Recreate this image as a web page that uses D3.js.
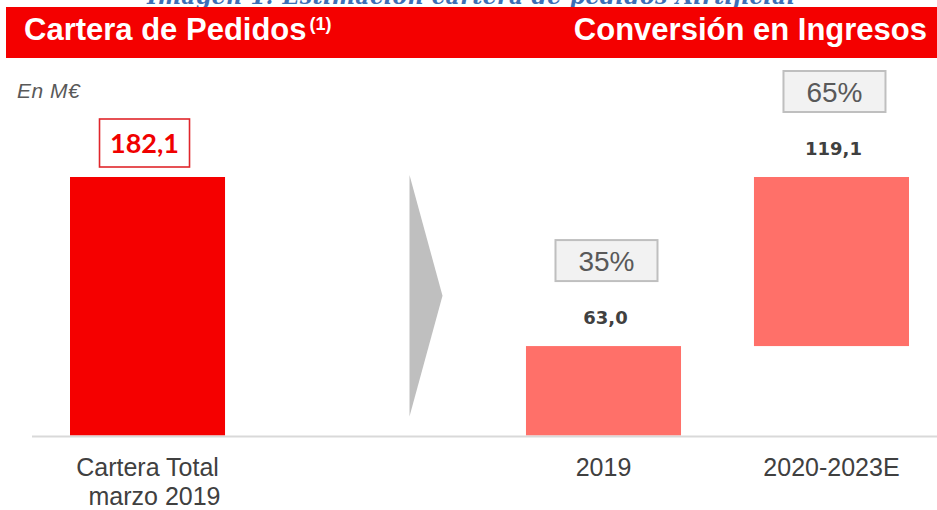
<!DOCTYPE html>
<html>
<head>
<meta charset="utf-8">
<script src="https://cdn.jsdelivr.net/npm/d3@7"></script>
<style>
  body { margin: 0; background: #fff; }
  svg { display: block; font-family: 'Liberation Sans', Arial, sans-serif; }
</style>
</head>
<body>
<div id="chart"></div>
<script>
// Chart data
const categories = ['Cartera Total', 'arrow', '2019', '2020-2023E'];
const barNames = ['Cartera Total', '2019', '2020-2023E'];
const barLines = [['Cartera Total', 'marzo 2019'], ['2019'], ['2020-2023E']];
const barValues = [182.1, 63.0, 119.1];
const valueLabels = ['182,1', '63,0', '119,1'];
const shareLabels = [null, '35%', '65%'];

const caption = 'Imagen 1: Estimación cartera de pedidos Airtificial';
const leftTitle = 'Cartera de Pedidos';
const rightTitle = 'Conversión en Ingresos';
const unitLabel = 'En M€';

const totalColor = '#f50000';
const partColor = '#ff7069';

function createChart() {
    let width = 937, height = 510;

    let svg = d3.select('#chart')
        .append('svg')
            .attr('width', width)
            .attr('height', height);

    // Scales
    let scX = d3.scaleBand()
        .domain(categories)
        .range([70, 909])
        .paddingInner(0.32)
        .paddingOuter(0);
    let scY = d3.scaleLinear()
        .domain([0, barValues[0]])
        .range([435.5, 177]);

    // Waterfall: first bar is the total, others stack from zero
    let bars = [];
    let running = 0;
    barNames.forEach((name, i) => {
        if (i === 0) {
            bars.push({name, y0: 0, y1: barValues[i], total: true, i});
        } else {
            bars.push({name, y0: running, y1: running + barValues[i], total: false, i});
            running += barValues[i];
        }
    });

    // Caption cut off at the top (as in the source picture)
    svg.append('text')
        .attr('x', 147)
        .attr('y', 4)
        .attr('textLength', 648)
        .attr('style', "font-family: 'DejaVu Serif', serif; font-style: italic; font-weight: bold; font-size: 22px; fill: #3d6fb6;")
        .text(caption);

    // Red header band
    svg.append('rect')
        .attr('x', 6)
        .attr('y', 7)
        .attr('width', width - 6)
        .attr('height', 51)
        .attr('fill', '#f40000');

    let lt = svg.append('text')
        .attr('x', 24)
        .attr('y', 40)
        .attr('fill', '#fff')
        .attr('font-weight', 'bold')
        .attr('font-size', '31px')
        .text(leftTitle);
    lt.append('tspan')
        .attr('dy', -10)
        .attr('dx', 3)
        .attr('font-size', '18px')
        .text('(1)');

    svg.append('text')
        .attr('x', 927)
        .attr('y', 40)
        .attr('text-anchor', 'end')
        .attr('fill', '#fff')
        .attr('font-weight', 'bold')
        .attr('font-size', '31px')
        .text(rightTitle);

    // Units
    svg.append('text')
        .attr('x', 17)
        .attr('y', 98)
        .attr('fill', '#595959')
        .attr('font-style', 'italic')
        .attr('font-size', '21px')
        .attr('letter-spacing', '0.5px')
        .text(unitLabel);

    // Grey chevron between the total and the conversion bars
    let ax = scX('arrow') + scX.bandwidth() / 2 + 34;
    let arrowTop = scY(barValues[0]) - 2;
    let arrowBot = scY(0) - 19;
    svg.append('path')
        .attr('fill', '#bfbfbf')
        .attr('d', `M${ax},${arrowTop} L${ax + 33},${(arrowTop + arrowBot) / 2} L${ax},${arrowBot} Z`);

    // Bars
    svg.selectAll('rect.bar')
        .data(bars)
        .enter()
        .append('rect')
            .attr('class', 'bar')
            .attr('x', d => scX(d.name))
            .attr('width', scX.bandwidth())
            .attr('y', d => scY(d.y1))
            .attr('height', d => scY(d.y0) - scY(d.y1))
            .attr('fill', d => d.total ? totalColor : partColor);

    // Baseline
    svg.append('line')
        .attr('x1', 32)
        .attr('x2', width)
        .attr('y1', scY(0) + 1)
        .attr('y2', scY(0) + 1)
        .attr('stroke', '#d9d9d9')
        .attr('stroke-width', 2);

    // Value labels
    bars.forEach(d => {
        let cx = scX(d.name) + scX.bandwidth() / 2;
        let top = scY(d.y1);
        if (d.total) {
            svg.append('rect')
                .attr('x', cx - 48)
                .attr('y', top - 58)
                .attr('width', 90)
                .attr('height', 48)
                .attr('fill', '#fff')
                .attr('stroke', '#e0262b')
                .attr('stroke-width', 1.6);
            svg.append('text')
                .attr('x', cx - 3)
                .attr('y', top - 24)
                .attr('text-anchor', 'middle')
                .attr('fill', '#f00000')
                .attr('font-family', 'Lato, sans-serif')
                .attr('font-weight', 'bold')
                .attr('font-size', '27px')
                .text(valueLabels[d.i]);
        } else {
            let lbY = top - 22;
            svg.append('text')
                .attr('x', cx + 2)
                .attr('y', lbY)
                .attr('text-anchor', 'middle')
                .attr('fill', '#404040')
                .attr('font-family', "'DejaVu Sans', sans-serif")
                .attr('font-weight', 'bold')
                .attr('font-size', '18px')
                .text(valueLabels[d.i]);
            svg.append('rect')
                .attr('x', cx - 48)
                .attr('y', lbY - 84)
                .attr('width', 102)
                .attr('height', 41)
                .attr('fill', '#f2f2f2')
                .attr('stroke', '#bfbfbf')
                .attr('stroke-width', 2);
            svg.append('text')
                .attr('x', cx + 3)
                .attr('y', lbY - 53)
                .attr('text-anchor', 'middle')
                .attr('fill', '#595959')
                .attr('font-size', '28px')
                .text(shareLabels[d.i]);
        }
    });

    // Category labels
    bars.forEach(d => {
        let cx = scX(d.name) + scX.bandwidth() / 2;
        let t = svg.append('text')
            .attr('text-anchor', 'middle')
            .attr('fill', '#404040')
            .attr('font-size', '25px');
        barLines[d.i].forEach((line, j) => {
            t.append('tspan')
                .attr('x', cx + j * 7)
                .attr('y', 476 + j * 29)
                .text(line);
        });
    });
}

createChart();
</script>
</body>
</html>
